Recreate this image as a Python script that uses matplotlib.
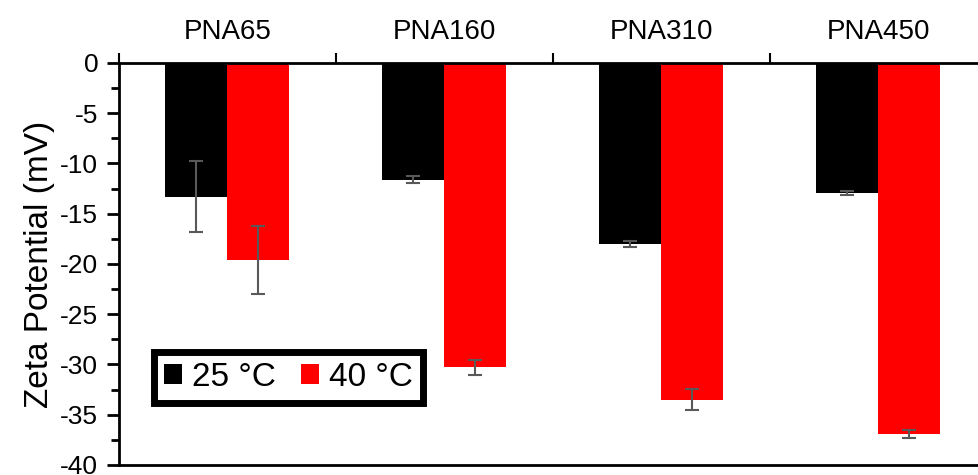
import numpy as np
import matplotlib.pyplot as plt
from matplotlib.ticker import MultipleLocator

plt.rcParams['font.family'] = ['Liberation Sans', 'DejaVu Sans']
plt.rcParams['axes.unicode_minus'] = False

samples = ['PNA65', 'PNA160', 'PNA310', 'PNA450']
zeta_25 = [-13.3, -11.6, -18.0, -12.9]
err_25 = [3.5, 0.35, 0.3, 0.2]
zeta_40 = [-19.6, -30.3, -33.5, -36.9]
err_40 = [3.4, 0.7, 1.05, 0.4]

x = np.arange(len(samples))
w = 0.286

fig = plt.figure(figsize=(9.79, 4.75), dpi=100)
ax = fig.add_axes([0.1216, 0.0211, 0.886, 0.8463])

ax.bar(x - w / 2, zeta_25, w, color='black', label='25 °C', zorder=2)
ax.bar(x + w / 2, zeta_40, w, color='#ff0000', label='40 °C', zorder=2)
ax.errorbar(x - w / 2, zeta_25, yerr=err_25, fmt='none', ecolor='#595959',
            elinewidth=1.5, capsize=5, capthick=1.5, zorder=3)
ax.errorbar(x + w / 2, zeta_40, yerr=err_40, fmt='none', ecolor='#595959',
            elinewidth=1.5, capsize=5, capthick=1.5, zorder=3)

ax.set_xlim(-0.5, len(samples) - 0.5)
ax.set_ylim(-40, 0)

# x axis sits on top, labels centred on groups, ticks between groups
ax.xaxis.tick_top()
ax.set_xticks(x)
ax.set_xticklabels(samples, fontsize=20)
ax.tick_params(axis='x', which='major', length=0, pad=13)
ax.set_xticks(np.arange(len(samples) + 1) - 0.5, minor=True)
ax.tick_params(axis='x', which='minor', length=7, width=1.5, direction='out')

ax.yaxis.set_major_locator(MultipleLocator(5))
ax.yaxis.set_minor_locator(MultipleLocator(2.5))
ax.tick_params(axis='y', which='major', length=9, width=2, labelsize=19, pad=6)
ax.tick_params(axis='y', which='minor', length=6, width=2)
ax.set_ylabel('Zeta Potential (mV)', fontsize=24, labelpad=4)

for side in ['top', 'left', 'bottom']:
    ax.spines[side].set_linewidth(2)
ax.spines['right'].set_visible(False)

leg = ax.legend(ncol=2, loc='upper left', bbox_to_anchor=(0.040, 0.281),
                borderaxespad=0, fontsize=24, handlelength=0.55, handleheight=0.55,
                handletextpad=0.3, columnspacing=0.75, fancybox=False,
                borderpad=0.3, framealpha=1)
leg.get_frame().set_edgecolor('black')
leg.get_frame().set_linewidth(5)

fig.savefig('out.png', dpi=100)
